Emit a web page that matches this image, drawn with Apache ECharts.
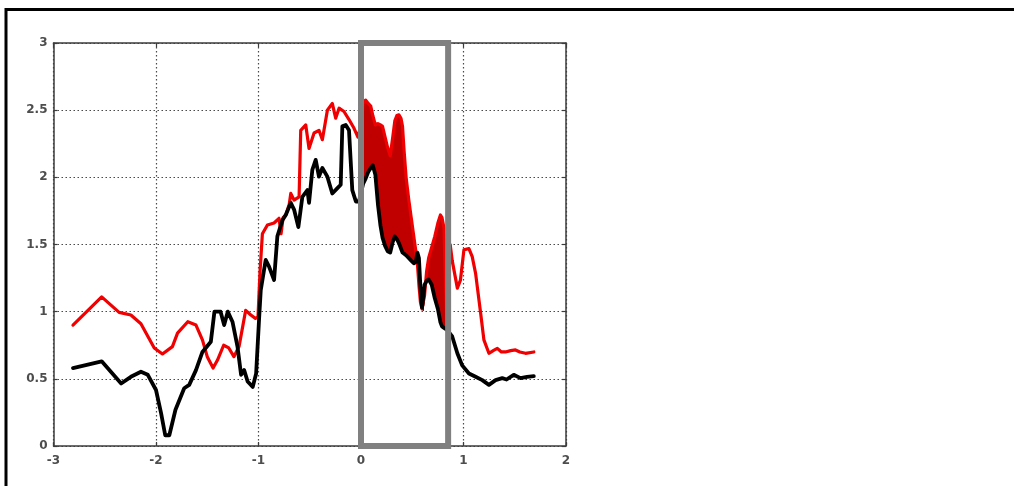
<!DOCTYPE html>
<html>
<head>
<meta charset="utf-8">
<script src="https://cdn.jsdelivr.net/npm/echarts@6/dist/echarts.min.js"></script>
<style>
  html, body { margin: 0; padding: 0; background: #fff; }
  #chart { width: 1014px; height: 486px; }
</style>
</head>
<body>
<div id="chart"></div>
<script>
// Red trace, left of the highlighted window
const redLeftX = [-2.81, -2.53, -2.36, -2.245, -2.147, -2.017, -1.937, -1.84, -1.79, -1.69, -1.61, -1.547, -1.50, -1.443, -1.40, -1.34, -1.29, -1.24, -1.19, -1.125, -1.075, -1.03, -1.005, -0.985, -0.962, -0.913, -0.848, -0.80, -0.78, -0.76, -0.734, -0.70, -0.685, -0.653, -0.604, -0.588, -0.539, -0.507, -0.458, -0.41, -0.377, -0.328, -0.28, -0.247, -0.214, -0.166, -0.117, -0.068, -0.03];
const redLeftY = [0.90, 1.11, 0.995, 0.975, 0.91, 0.73, 0.685, 0.74, 0.84, 0.925, 0.90, 0.79, 0.665, 0.58, 0.64, 0.75, 0.73, 0.665, 0.74, 1.01, 0.975, 0.95, 0.96, 1.30, 1.58, 1.645, 1.66, 1.695, 1.58, 1.70, 1.72, 1.80, 1.88, 1.83, 1.855, 2.35, 2.39, 2.215, 2.33, 2.35, 2.28, 2.50, 2.55, 2.44, 2.515, 2.49, 2.43, 2.365, 2.30];

// Black trace, left of the highlighted window
const blackLeftX = [-2.81, -2.53, -2.34, -2.245, -2.147, -2.08, -2.0, -1.95, -1.91, -1.87, -1.81, -1.725, -1.676, -1.61, -1.547, -1.465, -1.43, -1.37, -1.335, -1.30, -1.254, -1.205, -1.17, -1.14, -1.106, -1.056, -1.023, -0.994, -0.978, -0.93, -0.897, -0.848, -0.816, -0.767, -0.734, -0.685, -0.653, -0.611, -0.572, -0.523, -0.507, -0.475, -0.442, -0.41, -0.377, -0.328, -0.28, -0.23, -0.198, -0.182, -0.149, -0.117, -0.085, -0.05, -0.02];
const blackLeftY = [0.58, 0.63, 0.465, 0.515, 0.553, 0.53, 0.417, 0.243, 0.08, 0.08, 0.27, 0.43, 0.455, 0.565, 0.70, 0.776, 1.0, 1.0, 0.90, 1.0, 0.925, 0.74, 0.53, 0.565, 0.48, 0.44, 0.54, 0.95, 1.16, 1.385, 1.335, 1.236, 1.56, 1.68, 1.72, 1.81, 1.76, 1.63, 1.855, 1.905, 1.81, 2.055, 2.13, 2.005, 2.07, 2.005, 1.88, 1.92, 1.945, 2.38, 2.39, 2.35, 1.905, 1.82, 1.82];

// Both traces inside the highlighted window, on a shared x grid
const windowX = [0.005, 0.02, 0.045, 0.07, 0.095, 0.115, 0.14, 0.165, 0.19, 0.21, 0.235, 0.26, 0.285, 0.31, 0.33, 0.35, 0.37, 0.39, 0.405, 0.42, 0.44, 0.465, 0.49, 0.515, 0.535, 0.55, 0.565, 0.58, 0.595, 0.607, 0.62, 0.64, 0.66, 0.69, 0.72, 0.75, 0.775, 0.79, 0.81, 0.825, 0.84];
const windowRed = [2.40, 2.55, 2.575, 2.55, 2.53, 2.46, 2.39, 2.40, 2.39, 2.38, 2.30, 2.22, 2.16, 2.30, 2.42, 2.46, 2.465, 2.44, 2.38, 2.20, 2.00, 1.84, 1.70, 1.56, 1.45, 1.36, 1.20, 1.07, 1.02, 1.01, 1.12, 1.30, 1.40, 1.48, 1.56, 1.66, 1.72, 1.70, 1.62, 1.20, 0.88];
const windowBlack = [1.90, 1.95, 1.99, 2.04, 2.07, 2.09, 2.02, 1.80, 1.64, 1.55, 1.49, 1.45, 1.44, 1.52, 1.56, 1.54, 1.51, 1.47, 1.44, 1.435, 1.42, 1.40, 1.38, 1.36, 1.37, 1.44, 1.40, 1.18, 1.03, 1.10, 1.20, 1.23, 1.24, 1.20, 1.10, 1.02, 0.92, 0.89, 0.88, 0.87, 0.865];

// Red trace, right of the highlighted window
const redRightX = [0.87, 0.89, 0.94, 0.97, 1.004, 1.053, 1.085, 1.118, 1.167, 1.199, 1.248, 1.29, 1.33, 1.37, 1.41, 1.46, 1.507, 1.55, 1.605, 1.686];
const redRightY = [1.50, 1.38, 1.175, 1.235, 1.46, 1.47, 1.41, 1.285, 0.99, 0.79, 0.69, 0.71, 0.727, 0.70, 0.70, 0.71, 0.715, 0.70, 0.69, 0.70];

// Black trace, right of the highlighted window
const blackRightX = [0.89, 0.94, 0.987, 1.053, 1.118, 1.183, 1.248, 1.313, 1.378, 1.42, 1.49, 1.556, 1.62, 1.686];
const blackRightY = [0.815, 0.69, 0.60, 0.54, 0.515, 0.49, 0.455, 0.49, 0.505, 0.495, 0.53, 0.505, 0.515, 0.52];

// Highlighted window bounds: [xStart, yStart, xEnd, yEnd]
const windowBox = [0, 0, 0.85, 3];

const zip = (xs, ys) => xs.map((x, i) => [x, ys[i]]);
const redData = zip(redLeftX, redLeftY).concat(zip(windowX, windowRed), zip(redRightX, redRightY));
const blackData = zip(blackLeftX, blackLeftY).concat(zip(windowX, windowBlack), zip(blackRightX, blackRightY));
const bandData = windowX.map((x, i) => [x, windowRed[i], windowBlack[i]]);

const labelFont = { fontFamily: 'DejaVu Sans', fontWeight: 'bold', fontSize: 12, color: '#4d4d4d' };
const frameLine = { show: true, onZero: false, lineStyle: { color: '#3c3c3c', width: 1.5 } };
const innerTick = { show: true, inside: true, length: 4, lineStyle: { color: '#3c3c3c', width: 1.2 } };
const dotted = { show: true, lineStyle: { color: '#4a4a4a', width: 1.2, type: [1.5, 2.5] } };

const chart = echarts.init(document.getElementById('chart'), null, { renderer: 'canvas' });

chart.setOption({
  animation: false,
  backgroundColor: '#fff',
  graphic: [{
    type: 'polyline',
    shape: { points: [[6, 486], [6, 9.5], [1014, 9.5]] },
    style: { stroke: '#000', lineWidth: 3, fill: null },
    silent: true
  }],
  grid: { left: 53.5, right: 448, top: 43, bottom: 40, containLabel: false },
  xAxis: [{
    type: 'value', min: -3, max: 2, interval: 1, position: 'bottom',
    axisLine: frameLine, axisTick: innerTick,
    axisLabel: Object.assign({ margin: 9 }, labelFont),
    splitLine: dotted
  }, {
    type: 'value', min: -3, max: 2, interval: 1, position: 'top',
    axisLine: frameLine, axisTick: innerTick,
    axisLabel: { show: false }, splitLine: { show: false }
  }],
  yAxis: [{
    type: 'value', min: 0, max: 3, interval: 0.5, position: 'left',
    axisLine: frameLine, axisTick: innerTick,
    axisLabel: Object.assign({ margin: 6 }, labelFont),
    splitLine: dotted
  }, {
    type: 'value', min: 0, max: 3, interval: 0.5, position: 'right',
    axisLine: frameLine, axisTick: innerTick,
    axisLabel: { show: false }, splitLine: { show: false }
  }],
  series: [
    {
      // Filled band between the two traces inside the window:
      // one dark red polygon, plus black patches where the black trace is higher
      type: 'custom',
      z: 2,
      data: [0],
      renderItem: function (params, api) {
        const upper = bandData.map(d => api.coord([d[0], d[1]]));
        const lower = bandData.map(d => api.coord([d[0], d[2]])).reverse();
        const children = [{
          type: 'polygon',
          shape: { points: upper.concat(lower) },
          style: { fill: '#c00000', stroke: '#c00000', lineWidth: 1 }
        }];
        for (let i = 0; i < bandData.length - 1; i++) {
          const a = bandData[i], b = bandData[i + 1];
          if (a[2] + b[2] > a[1] + b[1]) {
            children.push({
              type: 'polygon',
              shape: { points: [api.coord([a[0], a[1]]), api.coord([b[0], b[1]]), api.coord([b[0], b[2]]), api.coord([a[0], a[2]])] },
              style: { fill: '#000', stroke: '#000', lineWidth: 1 }
            });
          }
        }
        return { type: 'group', children: children };
      }
    },
    {
      type: 'line', name: 'red', z: 3,
      data: redData, showSymbol: false, symbol: 'none',
      lineStyle: { color: '#f00000', width: 3.2, join: 'round', cap: 'round' }
    },
    {
      type: 'line', name: 'black', z: 4,
      data: blackData, showSymbol: false, symbol: 'none',
      lineStyle: { color: '#000', width: 3.8, join: 'round', cap: 'round' }
    },
    {
      // Gray outline marking the window
      type: 'custom', z: 6, clip: false,
      data: [windowBox],
      renderItem: function (params, api) {
        const tl = api.coord([windowBox[0], windowBox[3]]);
        const br = api.coord([windowBox[2], windowBox[1]]);
        return {
          type: 'rect',
          shape: { x: tl[0], y: tl[1], width: br[0] - tl[0], height: br[1] - tl[1] },
          style: { fill: null, stroke: '#808080', lineWidth: 6 }
        };
      }
    }
  ]
});
</script>
</body>
</html>
